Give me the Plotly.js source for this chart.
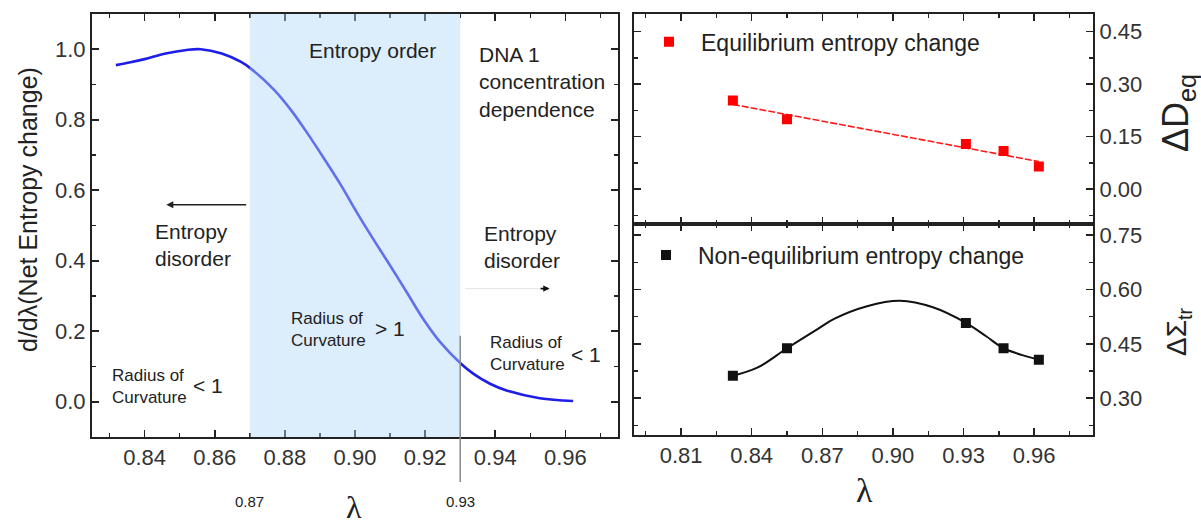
<!DOCTYPE html>
<html><head><meta charset="utf-8">
<script src="https://cdn.plot.ly/plotly-3.0.1.min.js"></script>
<style>html,body{margin:0;padding:0;background:#fff;}#chart{width:1201px;height:529px;}</style>
</head><body><div id="chart"></div>
<script>
// ---- data ----
const netLambda = [0.8318, 0.836, 0.840, 0.846, 0.852, 0.856, 0.862, 0.8675, 0.8703, 0.8770, 0.8817, 0.8864, 0.8911, 0.8959, 0.9006, 0.9053, 0.9101, 0.9148, 0.9195, 0.9243, 0.9303, 0.9338, 0.9385, 0.9432, 0.9527, 0.9622];
const netDeriv  = [0.955, 0.963, 0.972, 0.988, 0.998, 1.000, 0.988, 0.964, 0.945, 0.884, 0.828, 0.762, 0.691, 0.616, 0.536, 0.460, 0.385, 0.310, 0.234, 0.169, 0.107, 0.079, 0.051, 0.032, 0.010, 0.002];
const orderRegion = [0.87, 0.93];
const boundaryLabels = ['0.87', '0.93'];
const boundaryLineTop = 0.187;

const eqLambda = [0.832, 0.855, 0.931, 0.947, 0.962];
const eqValue  = [0.253, 0.200, 0.129, 0.109, 0.065];
const eqFitLambda = [0.832, 0.962];
const eqFitValue  = [0.242, 0.079];

const neqLambda = [0.832, 0.855, 0.931, 0.947, 0.962];
const neqValue  = [0.362, 0.438, 0.508, 0.438, 0.406];
const neqFitLambda = [0.832, 0.8426, 0.855, 0.868, 0.875, 0.889, 0.903, 0.917, 0.931, 0.9396, 0.947, 0.955, 0.962];
const neqFitValue  = [0.362, 0.385, 0.438, 0.491, 0.519, 0.554, 0.569, 0.551, 0.508, 0.471, 0.438, 0.419, 0.406];

// ---- layout helpers ----
const W = 1201, H = 529, ML = 92, MR = 108, MT = 14, MB = 92;
const PW = W - ML - MR, PH = H - MT - MB;
const px = x => (x - ML) / PW;
const py = y => (H - MB - y) / PH;
const leftYRange = [-0.1, 1.1];
const toLeftPaperY = v => (v - leftYRange[0]) / (leftYRange[1] - leftYRange[0]);

const FONT = 'Liberation Sans, Arial, sans-serif';
const SERIF = 'Liberation Serif, Times New Roman, serif';
const TXT = '#222';
const LINE = '#222';

const axisBase = {
  showline: true, linewidth: 2, linecolor: LINE, mirror: 'allticks',
  ticks: 'inside', ticklen: 7, tickwidth: 1.6, tickcolor: LINE,
  showgrid: false, zeroline: false,
  tickfont: {family: FONT, size: 22, color: '#333'}
};
function ax(extra, minor) {
  const o = Object.assign({}, axisBase, extra);
  o.minor = Object.assign({ticks: 'inside', ticklen: 4, tickwidth: 1.4, tickcolor: LINE, showgrid: false}, minor);
  return o;
}

const traces = [
  {x: netLambda, y: netDeriv, xaxis: 'x', yaxis: 'y', mode: 'lines', line: {color: '#1e1ee6', width: 2.6, shape: 'spline', smoothing: 1}, showlegend: false, hoverinfo: 'skip'},
  {x: eqFitLambda, y: eqFitValue, xaxis: 'x2', yaxis: 'y2', mode: 'lines', line: {color: '#ff1a1a', width: 1.6, dash: '7px,2px'}, showlegend: false},
  {x: eqLambda, y: eqValue, xaxis: 'x2', yaxis: 'y2', mode: 'markers', name: 'Equilibrium entropy change', marker: {symbol: 'square', size: 10, color: '#ff0000'}, legend: 'legend'},
  {x: neqFitLambda, y: neqFitValue, xaxis: 'x3', yaxis: 'y3', mode: 'lines', line: {color: '#111', width: 2, shape: 'spline', smoothing: 1}, showlegend: false},
  {x: neqLambda, y: neqValue, xaxis: 'x3', yaxis: 'y3', mode: 'markers', name: 'Non-equilibrium entropy change', marker: {symbol: 'square', size: 10, color: '#111'}, legend: 'legend2'}
];

const noteFont = {family: FONT, size: 21, color: TXT};
const smallFont = {family: FONT, size: 17, color: TXT};
function note(x, y, text, font, xanchor) {
  return {xref: 'x', yref: 'y', x: x, y: y, text: text, showarrow: false, font: font,
          xanchor: xanchor || 'center', yanchor: 'middle', align: xanchor === 'left' ? 'left' : 'center'};
}
function paperNote(x, y, text, font, angle) {
  return {xref: 'paper', yref: 'paper', x: x, y: y, text: text, showarrow: false, font: font,
          xanchor: 'center', yanchor: 'middle', textangle: angle || 0};
}

const annotations = [
  note(0.905, 0.997, 'Entropy order', noteFont),
  note(0.9347, 0.908, 'DNA 1<br>concentration<br>dependence', noteFont, 'left'),
  note(0.8424, 0.4455, 'Entropy<br>disorder', noteFont, 'left'),
  note(0.9361, 0.44, 'Entropy<br>disorder', noteFont, 'left'),
  note(0.830, 0.0438, 'Radius of<br>Curvature', smallFont, 'left'),
  note(0.8581, 0.046, '&lt; 1', noteFont),
  note(0.8811, 0.2048, 'Radius of<br>Curvature', smallFont, 'left'),
  note(0.9101, 0.209, '&gt; 1', noteFont),
  note(0.9379, 0.1356, 'Radius of<br>Curvature', smallFont, 'left'),
  note(0.966, 0.1328, '&lt; 1', noteFont),
  // arrows
  {xref: 'x', yref: 'y', axref: 'x', ayref: 'y', x: 0.8462, y: 0.559, ax: 0.8694, ay: 0.559, text: '', showarrow: true, arrowhead: 2, arrowsize: 1, arrowwidth: 1.4, arrowcolor: '#222'},
  {xref: 'x', yref: 'y', axref: 'x', ayref: 'y', x: 0.9555, y: 0.321, ax: 0.9525, ay: 0.321, text: '', showarrow: true, arrowhead: 2, arrowsize: 0.8, arrowwidth: 1.6, arrowcolor: '#111'},
  // boundary labels
  {xref: 'x', yref: 'paper', x: orderRegion[0], y: py(501.7), xanchor: 'center', yanchor: 'middle', text: boundaryLabels[0], showarrow: false, font: {family: FONT, size: 15, color: TXT}},
  {xref: 'x', yref: 'paper', x: orderRegion[1], y: py(501.7), xanchor: 'center', yanchor: 'middle', text: boundaryLabels[1], showarrow: false, font: {family: FONT, size: 15, color: TXT}},
  // axis titles
  paperNote(px(28), py(210), 'd/dλ(Net Entropy change)', {family: FONT, size: 25, color: TXT}, -90),
  paperNote(px(354), py(507), 'λ', {family: SERIF, size: 32, color: TXT}),
  paperNote(px(864), py(490), 'λ', {family: SERIF, size: 34, color: TXT}),
  paperNote(px(1178), py(113), 'ΔD<sub>eq</sub>', {family: FONT, size: 36, color: TXT}, -90),
  paperNote(px(1178), py(332), 'ΔΣ<sub>tr</sub>', {family: FONT, size: 28, color: TXT}, -90)
];

const shapes = [
  {type: 'rect', xref: 'x', yref: 'y', x0: orderRegion[0], x1: orderRegion[1], y0: leftYRange[0], y1: leftYRange[1], fillcolor: 'rgb(177,215,248)', opacity: 0.45, line: {width: 0}, layer: 'above'},
  {type: 'line', xref: 'x', yref: 'paper', x0: orderRegion[1], x1: orderRegion[1], y0: py(482), y1: toLeftPaperY(boundaryLineTop), line: {color: '#8a8a8a', width: 1.5}, layer: 'above'},
  {type: 'line', xref: 'x', yref: 'y', x0: 0.9314, x1: 0.953, y0: 0.321, y1: 0.321, line: {color: '#e4e4e4', width: 1}, layer: 'above'}
];

const layout = {
  width: W, height: H,
  margin: {l: ML, r: MR, t: MT, b: MB},
  paper_bgcolor: '#fff', plot_bgcolor: '#fff',
  font: {family: FONT, color: TXT},
  xaxis: ax({domain: [0, px(618)], anchor: 'y', range: [0.825, 0.975], tick0: 0.84, dtick: 0.02, tickformat: '.2f'}, {dtick: 0.01, tick0: 0.83}),
  yaxis: ax({domain: [0, 1], anchor: 'x', range: leftYRange, tick0: 0, dtick: 0.2, tickformat: '.1f'}, {dtick: 0.1, tick0: 0}),
  xaxis2: ax({domain: [px(634), 1], anchor: 'y2', range: [0.79, 0.985], tick0: 0.81, dtick: 0.03, showticklabels: false, matches: 'x3'}, {dtick: 0.015, tick0: 0.81}),
  yaxis2: ax({domain: [py(224.3), 1], anchor: 'x2', side: 'right', range: [-0.1, 0.5], tick0: 0, dtick: 0.15, tickformat: '.2f'}, {dtick: 0.075, tick0: 0}),
  xaxis3: ax({domain: [px(634), 1], anchor: 'y3', range: [0.79, 0.985], tick0: 0.81, dtick: 0.03, tickformat: '.2f'}, {dtick: 0.015, tick0: 0.81}),
  yaxis3: ax({domain: [py(434.5), py(224.3)], anchor: 'x3', side: 'right', range: [0.2, 0.78], tick0: 0.3, dtick: 0.15, tickformat: '.2f'}, {dtick: 0.075, tick0: 0.3}),
  legend: {x: px(637), y: py(41.7), xanchor: 'left', yanchor: 'middle', bgcolor: 'rgba(0,0,0,0)', font: {family: FONT, size: 23, color: TXT}, itemwidth: 54},
  legend2: {x: px(634), y: py(255), xanchor: 'left', yanchor: 'middle', bgcolor: 'rgba(0,0,0,0)', font: {family: FONT, size: 23, color: TXT}, itemwidth: 54},
  annotations: annotations,
  shapes: shapes,
  showlegend: true
};

Plotly.newPlot('chart', traces, layout, {staticPlot: true, displayModeBar: false});
</script>
</body></html>
